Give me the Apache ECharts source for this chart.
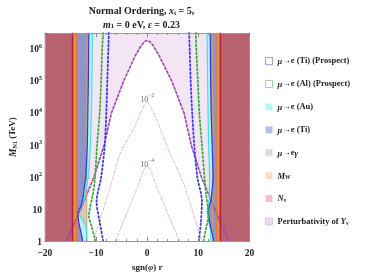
<!DOCTYPE html>
<html><head><meta charset="utf-8">
<script src="https://cdn.jsdelivr.net/npm/echarts@6/dist/echarts.min.js"></script>
<style>html,body{margin:0;padding:0;background:#fff}#c{width:366px;height:277px}</style>
</head><body><div id="c"></div>
<script>
// ---------- data ----------
const X_MIN = -20, X_MAX = 20, M_MIN = 1, M_MAX = 3162278;
const xTickValues = [-20, -10, 0, 10, 20];
const yTickExponents = [0, 1, 2, 3, 4, 5, 6];

// vertical boundaries (sgn(phi) r)
const nuLeft = -14.6, nuRight = 14.3;     // N_nu
const mwLeft = -13.8, mwRight = 13.6;     // M_W
const egLeft = -11.8, egRight = 12.8;     // mu -> e gamma

// mu -> e (Ti) boundary
const tiM      = [1, 2, 4, 8, 12, 20, 60, 100, 1000, 1e4, 1e5, 1e6, 3162278];
const tiXLeft  = [-12.6, -13.0, -13.4, -13.6, -13.0, -12.6, -12.2, -12.0, -11.7, -11.6, -11.5, -11.45, -11.4];
const tiXRight = [13.0, 12.6, 12.2, 11.9, 12.1, 12.5, 12.8, 12.9, 12.7, 12.5, 12.4, 12.35, 12.3];

// mu -> e (Au) boundary
const auM      = [1, 2, 3, 5, 8, 12, 20, 60, 100, 1000, 1e4, 1e5, 1e6, 3162278];
const auXLeft  = [-11.8, -11.9, -12.0, -12.8, -13.6, -12.9, -12.3, -11.8, -11.5, -11.1, -10.9, -10.8, -10.75, -10.7];
const auXRight = [12.3, 12.4, 12.2, 11.9, 11.7, 11.8, 12.1, 12.2, 12.2, 12.0, 11.9, 11.8, 11.75, 11.7];

// prospect sensitivities (dotted)
const tiProM      = [1, 4, 17, 100, 1000, 1e4, 1e5, 1e6, 3162278];
const tiProXLeft  = [-8.6, -9.3, -9.9, -9.0, -8.3, -8.0, -7.8, -7.6, -7.5];
const tiProXRight = [10.1, 10.5, 10.7, 9.8, 9.2, 8.8, 8.5, 8.3, 8.2];
const alProM      = [1, 3, 6, 30, 100, 1000, 1e4, 1e5, 1e6, 3162278];
const alProXLeft  = [-10.1, -10.9, -11.4, -10.6, -10.2, -9.8, -9.3, -9.0, -8.8, -8.6];
const alProXRight = [11.0, 11.6, 12.0, 11.5, 11.2, 10.7, 10.2, 9.9, 9.6, 9.5];

// perturbativity of Y_nu boundary
const pertX = [-15.8, -13.0, -10.4, -8.4, -7.0, -4.6, -2.3, -1.2, -0.5, 0, 0.5, 1.2, 2.3, 4.8, 7.2, 8.6, 10.6, 13.2, 16.0];
const pertM = [1, 10, 100, 1000, 1e4, 1e5, 6.3e5, 1.26e6, 1.7e6, 1.86e6, 1.7e6, 1.26e6, 6.3e5, 1e5, 1e4, 1000, 100, 10, 1];

// contours 10^-2, 10^-4
const c2X = [-10.5, -7.1, -5.2, -2.4, -1.0, 0, 1.0, 2.4, 4.4, 7.2, 10.6];
const c2M = [1, 57, 575, 3800, 12600, 21400, 12600, 3800, 575, 57, 1];
const c4X = [-6.2, -3.5, -1.7, -0.7, 0, 0.7, 1.7, 3.5, 6.3];
const c4M = [1, 11.5, 57, 158, 229, 158, 57, 11.5, 1];
const contourLabelText = ['-2', '-4'];
const contourLabelX = [0, 0];
const contourLabelM = [29000, 270];

const legendNames = ['μ→e (Ti) (Prospect)', 'μ→e (Al) (Prospect)', 'μ→e (Au)', 'μ→e (Ti)', 'μ→eγ', 'M_W', 'N_ν', 'Perturbativity of Y_ν'];

// ---------- helpers ----------
const FF = '"Liberation Serif", "Times New Roman", serif';
function zip(xs, ms) { return xs.map((x, i) => [x, ms[i]]); }
function leftPoly(xs, ms) { return [[X_MIN, ms[0]]].concat(zip(xs, ms), [[X_MIN, ms[ms.length - 1]]]); }
function rightPoly(xs, ms) { return [[X_MAX, ms[0]]].concat(zip(xs, ms), [[X_MAX, ms[ms.length - 1]]]); }
function vBand(a, b) { return [[a, M_MIN], [b, M_MIN], [b, M_MAX], [a, M_MAX]]; }

function region(name, fill, polys, z) {
  return {
    type: 'custom', name: name, z: z, silent: true, animation: false,
    itemStyle: { color: fill },
    data: [[0, 1]],
    renderItem: function (p, api) {
      return { type: 'group', children: polys.map(poly => ({
        type: 'polygon', shape: { points: poly.map(pt => api.coord(pt)) },
        style: { fill: fill, stroke: null }
      })) };
    }
  };
}
function curve(name, xs, ms, color, width, type, z, smooth) {
  return {
    type: 'line', name: name, z: z, silent: true, animation: false,
    data: zip(xs, ms), showSymbol: false, symbol: 'none', smooth: smooth || false,
    lineStyle: { color: color, width: width, type: type, cap: 'round' }
  };
}
function dummy(name) { return { type: 'custom', name: name, data: [], renderItem: () => null }; }

const pertPoly = [[X_MIN, M_MIN], [X_MIN, M_MAX], [X_MAX, M_MAX], [X_MAX, M_MIN]].concat(zip(pertX, pertM).reverse());

const series = [
  region('Perturbativity of Y_ν', '#f3e5f3', [pertPoly], 1),
  region('μ→eγ', '#d9c9b4', [vBand(X_MIN, egLeft), vBand(egRight, X_MAX)], 2),
  region('μ→e (Au)', '#bdf1f1', [leftPoly(auXLeft, auM), rightPoly(auXRight, auM)], 3),
  region('μ→e (Ti)', '#8d94c7', [leftPoly(tiXLeft, tiM), rightPoly(tiXRight, tiM)], 4),
  region('M_W', '#df8e58', [vBand(X_MIN, mwLeft), vBand(mwRight, X_MAX)], 5),
  region('N_ν', '#b8626f', [vBand(X_MIN, nuLeft), vBand(nuRight, X_MAX)], 6),
  dummy('μ→e (Ti) (Prospect)'),
  dummy('μ→e (Al) (Prospect)'),
  curve('c2', c2X, c2M, '#d9a3d9', 1, [2, 2, 0.5, 2], 7, 0.3),
  curve('c4', c4X, c4M, '#d9a3d9', 1, [2, 2, 0.5, 2], 7, 0.3),
  curve('pert', pertX, pertM, '#a13fb3', 1.6, [2.2, 2.2], 8, false),
  curve('egL', [egLeft, egLeft], [M_MIN, M_MAX], '#c9a37a', 1, 'solid', 9),
  curve('egR', [egRight, egRight], [M_MIN, M_MAX], '#c9a37a', 1, 'solid', 9),
  curve('auL', auXLeft, auM, '#3fe3e3', 1.2, 'solid', 9),
  curve('auR', auXRight, auM, '#3fe3e3', 1.2, 'solid', 9),
  curve('tiL', tiXLeft, tiM, '#3535d8', 1.2, 'solid', 10),
  curve('tiR', tiXRight, tiM, '#3535d8', 1.2, 'solid', 10),
  curve('mwL', [mwLeft, mwLeft], [M_MIN, M_MAX], '#e8742a', 1, 'solid', 10),
  curve('mwR', [mwRight, mwRight], [M_MIN, M_MAX], '#e8742a', 1, 'solid', 10),
  curve('nuL', [nuLeft, nuLeft], [M_MIN, M_MAX], '#b3232e', 1.5, 'solid', 10),
  curve('nuR', [nuRight, nuRight], [M_MIN, M_MAX], '#b3232e', 1.5, 'solid', 10),
  curve('tiPL', tiProXLeft, tiProM, '#3a3af2', 1.8, [1.6, 2.4], 11, 0.3),
  curve('tiPR', tiProXRight, tiProM, '#3a3af2', 1.8, [1.6, 2.4], 11, 0.3),
  curve('alPL', alProXLeft, alProM, '#3eaa3e', 1.8, [1.6, 2.4], 11, 0.3),
  curve('alPR', alProXRight, alProM, '#3eaa3e', 1.8, [1.6, 2.4], 11, 0.3),
  {
    type: 'scatter', name: 'labels', z: 12, silent: true, animation: false, symbolSize: 0,
    data: contourLabelX.map((x, i) => [x, contourLabelM[i], contourLabelText[i]]),
    label: {
      show: true, position: 'inside', color: '#444',
      formatter: p => '{b|10}{s|' + p.value[2].replace('-', '−') + '}',
      rich: {
        b: { fontFamily: FF, fontSize: 8, color: '#444', lineHeight: 11, verticalAlign: 'bottom' },
        s: { fontFamily: FF, fontSize: 5.5, color: '#444', lineHeight: 11, verticalAlign: 'top', padding: [0, 0, 3, 0] }
      }
    }
  }
];

const legendStyles = {
  'μ→e (Ti) (Prospect)': { color: '#ffffff', borderColor: '#3a3af2', borderWidth: 1, borderType: 'dotted' },
  'μ→e (Al) (Prospect)': { color: '#ffffff', borderColor: '#3eaa3e', borderWidth: 1, borderType: 'dotted' },
  'μ→e (Au)': { color: '#b4f8f8' },
  'μ→e (Ti)': { color: '#b9b9f6' },
  'μ→eγ': { color: '#e3dbd2' },
  'M_W': { color: '#fcdcc0' },
  'N_ν': { color: '#f7c0c0' },
  'Perturbativity of Y_ν': { color: '#eed9f2', borderColor: '#c9a0d9', borderWidth: 1, borderType: 'dotted' }
};
const legendRich = {
  'μ→e (Ti) (Prospect)': '{i|μ}→e (Ti) (Prospect)',
  'μ→e (Al) (Prospect)': '{i|μ}→e (Al) (Prospect)',
  'μ→e (Au)': '{i|μ}→e (Au)',
  'μ→e (Ti)': '{i|μ}→e (Ti)',
  'μ→eγ': '{i|μ}→e{i|γ}',
  'M_W': '{i|M}{sub|W}',
  'N_ν': '{i|N}{sub|ν}',
  'Perturbativity of Y_ν': 'Perturbativity of {i|Y}{sub|ν}'
};

const tickColor = '#8a8a8a';
function xAxisDef(pos, showLabel) {
  return {
    type: 'value', position: pos, min: X_MIN, max: X_MAX, interval: 10, z: 20,
    axisLine: { show: true, onZero: false, lineStyle: { color: '#9a9a9a', width: 1 } },
    axisTick: { show: true, inside: true, length: 4, lineStyle: { color: tickColor } },
    minorTick: { show: true, splitNumber: 5, length: 2, lineStyle: { color: tickColor } },
    splitLine: { show: false },
    axisLabel: {
      show: showLabel, margin: 7, color: '#222', fontFamily: FF, fontWeight: 'bold', fontSize: 9.5,
      formatter: v => xTickValues.indexOf(v) >= 0 ? String(v).replace('-', '−') : ''
    },
    name: showLabel ? 'sgn({i|φ}) r' : '', nameLocation: 'middle', nameGap: 18,
    nameTextStyle: {
      color: '#222', fontFamily: FF, fontWeight: 'bold', fontSize: 9,
      rich: { i: { fontFamily: FF, fontWeight: 'bold', fontStyle: 'italic', fontSize: 9, color: '#222' } }
    }
  };
}
function yAxisDef(pos, showLabel) {
  return {
    type: 'log', logBase: 10, position: pos, min: M_MIN, max: M_MAX, z: 20,
    axisLine: { show: true, onZero: false, lineStyle: { color: '#9a9a9a', width: 1 } },
    axisTick: { show: true, inside: true, length: 4, lineStyle: { color: tickColor } },
    minorTick: { show: false },
    splitLine: { show: false },
    axisLabel: {
      show: showLabel, margin: 3, color: '#222',
      formatter: function (v) {
        const l = Math.log10(v), e = Math.round(l);
        if (Math.abs(l - e) > 1e-6 || yTickExponents.indexOf(e) < 0) return '';
        if (e === 0) return '{b|1}';
        if (e === 1) return '{b|10}';
        return '{b|10}{s|' + e + '}';
      },
      rich: {
        b: { fontFamily: FF, fontWeight: 'bold', fontSize: 9.5, color: '#222', lineHeight: 12, verticalAlign: 'bottom' },
        s: { fontFamily: FF, fontWeight: 'bold', fontSize: 6, color: '#222', lineHeight: 12, verticalAlign: 'top', padding: [0, 0, 4, 0] }
      }
    },
    name: showLabel ? '{i|M}{sub|N1} (TeV)' : '', nameLocation: 'middle', nameGap: 20, nameRotate: 90,
    nameTextStyle: {
      color: '#222', fontFamily: FF, fontWeight: 'bold', fontSize: 9,
      rich: {
        i: { fontFamily: FF, fontWeight: 'bold', fontStyle: 'italic', fontSize: 9.5, color: '#222', lineHeight: 12, verticalAlign: 'bottom' },
        sub: { fontFamily: FF, fontWeight: 'bold', fontSize: 6, color: '#222', lineHeight: 12, verticalAlign: 'bottom', padding: [3, 0, 0, 0] }
      }
    }
  };
}

const titleRich = {
  i: { fontFamily: FF, fontWeight: 'bold', fontStyle: 'italic', fontSize: 10, fill: '#222', lineHeight: 13, verticalAlign: 'bottom' },
  s: { fontFamily: FF, fontWeight: 'bold', fontSize: 6.5, fill: '#222', lineHeight: 13, verticalAlign: 'bottom', padding: [4, 0, 0, 0] },
  n: { fontFamily: FF, fontWeight: 'bold', fontSize: 10, fill: '#222', lineHeight: 13, verticalAlign: 'bottom' }
};

const option = {
  animation: false,
  backgroundColor: '#fff',
  grid: { left: 33.5, right: 116.5, top: 33, bottom: 29, containLabel: false },
  xAxis: [xAxisDef('bottom', true), xAxisDef('top', false)],
  yAxis: [yAxisDef('left', true), yAxisDef('right', false)],
  legend: {
    orient: 'vertical', left: 260, top: 51, itemWidth: 7, itemHeight: 7, itemGap: 12.6,
    selectedMode: false, icon: 'rect',
    data: legendNames.map(n => ({ name: n, icon: 'rect', itemStyle: legendStyles[n] })),
    formatter: n => legendRich[n],
    textStyle: {
      fontFamily: FF, fontWeight: 'bold', fontSize: 8.5, color: '#222', lineHeight: 10.3,
      rich: {
        i: { fontFamily: FF, fontWeight: 'bold', fontStyle: 'italic', fontSize: 8.5, color: '#222', lineHeight: 10.3, verticalAlign: 'bottom' },
        sub: { fontFamily: FF, fontWeight: 'bold', fontSize: 5.5, color: '#222', lineHeight: 10.3, verticalAlign: 'bottom', padding: [3, 0, 0, 0] }
      }
    }
  },
  graphic: [
    { type: 'text', x: 141.5, y: 10, style: { text: '{n|Normal Ordering, }{i|x}{s|t}{n| = 5,}', rich: titleRich, align: 'center', verticalAlign: 'middle' } },
    { type: 'text', x: 141.5, y: 23.5, style: { text: '{i|m}{s|1}{n| = 0 eV, }{i|ε}{n| = 0.23}', rich: titleRich, align: 'center', verticalAlign: 'middle' } }
  ],
  series: series
};

const chart = echarts.init(document.getElementById('c'), null, { renderer: 'canvas' });
chart.setOption(option);
</script>
</body></html>
